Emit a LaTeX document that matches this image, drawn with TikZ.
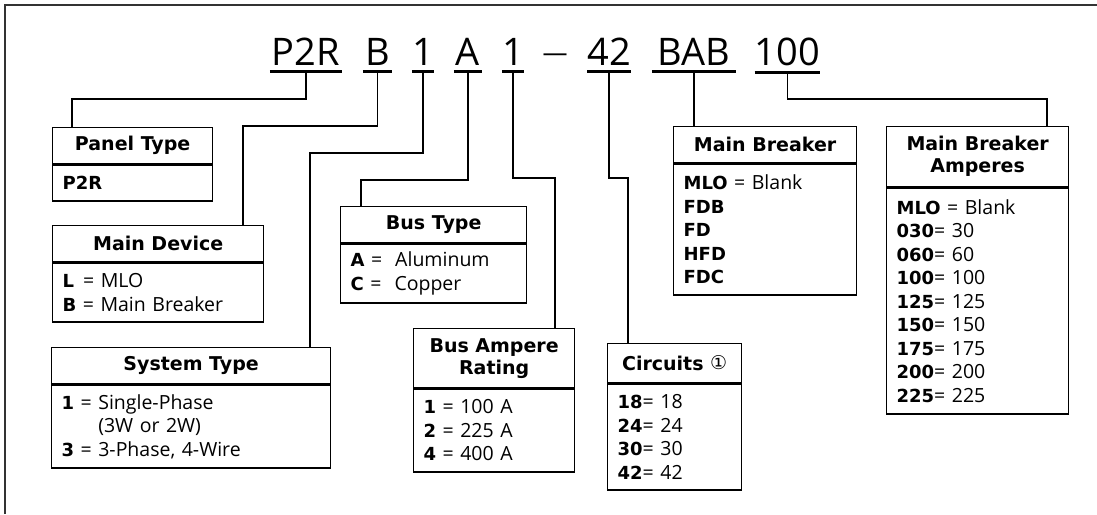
\documentclass[tikz,border=0pt]{standalone}
\usepackage{fontspec}
\setmainfont{Open Sans}
\newfontfamily\hdfont{DejaVu Sans}
\newfontfamily\symfont{DejaVu Sans}
\newcommand\kw[1]{{\hdfont\bfseries\fontsize{18}{23.5}\selectfont #1}}
\tikzset{
  hd/.style={draw, line width=1.3pt, anchor=north west, inner sep=0pt, align=center,
    font=\hdfont\bfseries\fontsize{19}{22}\selectfont},
  bd/.style={draw, line width=1.3pt, anchor=north west, inner xsep=10pt, inner ysep=0pt,
    align=left, font=\fontsize{19.5}{23.5}\selectfont},
  code/.style={anchor=base, inner xsep=0pt, inner ysep=6.5pt, font=\fontsize{38}{38}\selectfont},
  wire/.style={line width=1.3pt},
  bar/.style={line width=3pt},
  frame/.style={line width=2pt, black!80}
}
\begin{document}
\begin{tikzpicture}[x=1pt,y=-1pt]
\useasboundingbox (0,0) rectangle (1097,514);
\draw[frame] (5,514) -- (5,5) -- (1097,5);
% catalog number
\node[code, minimum width=72pt] (cP) at (306,65) {P2R};
\node[code, minimum width=29pt] (cB) at (377.5,65) {B};
\node[code, minimum width=20pt] (cS) at (423,65) {1};
\node[code, minimum width=28pt] (cA) at (468,65) {A};
\node[code, minimum width=20pt] (cR) at (513,65) {1};
\node[code, font=\fontsize{25}{25}\selectfont] (cD) at (555,61) {—};
\node[code, minimum width=42pt] (cC) at (609,65) {42};
\node[code, minimum width=84pt] (cM) at (694,65) {BAB};
\node[code, minimum width=61pt] (cX) at (787.5,65) {100};
\foreach \n in {cP,cB,cS,cA,cR,cC,cM,cX}
  \draw[bar] (\n.south west) -- (\n.south east);
% boxes
\node[hd, minimum width=160pt, minimum height=36pt] (panel) at (52,127) {Panel Type};
\node[bd, text width=140pt, minimum height=36pt] (panelB) at (panel.south west) {\kw{P2R}};
\node[hd, minimum width=211pt, minimum height=36pt] (device) at (52,225) {Main Device};
\node[bd, text width=191pt, minimum height=59pt] (deviceB) at (device.south west)
  {\kw{L}\kern2.5pt{} = MLO\\\kw{B} = Main Breaker};
\node[hd, minimum width=279pt, minimum height=36pt] (system) at (51,347) {System Type};
\node[bd, text width=259pt, minimum height=83pt] (systemB) at (system.south west)
  {\kw{1} = Single-Phase\\\phantom{\kw{1} = }(3W or 2W)\\\kw{3} = 3-Phase, 4-Wire};
\node[hd, minimum width=186pt, minimum height=36pt] (bustype) at (340,206) {Bus Type};
\node[bd, text width=166pt, minimum height=59pt] (bustypeB) at (bustype.south west)
  {\kw{A} = ~Aluminum\\\kw{C} = ~Copper};
\node[hd, minimum width=161pt, minimum height=59pt] (busamp) at (413,328) {Bus Ampere\\Rating};
\node[bd, text width=141pt, minimum height=83pt] (busampB) at (busamp.south west)
  {\kw{1} = 100 A\\\kw{2} = 225 A\\\kw{4} = 400 A};
\node[hd, minimum width=134pt, minimum height=39pt] (circuits) at (607,343)
  {Circuits {\symfont\mdseries\fontsize{19}{19}\selectfont\raisebox{1pt}{①}}};
\node[bd, text width=114pt, minimum height=106pt] (circuitsB) at (circuits.south west)
  {\kw{18}= 18\\\kw{24}= 24\\\kw{30}= 30\\\kw{42}= 42};
\node[hd, minimum width=183pt, minimum height=36pt] (breaker) at (673,126) {Main Breaker};
\node[bd, text width=163pt, minimum height=131pt] (breakerB) at (breaker.south west)
  {\kw{MLO} = Blank\\\kw{FDB}\\\kw{FD}\\\kw{HFD}\\\kw{FDC}};
\node[hd, minimum width=182pt, minimum height=60pt] (amperes) at (886,126) {Main Breaker\\Amperes};
\node[bd, text width=162pt, minimum height=226pt] (amperesB) at (amperes.south west)
  {\kw{MLO} = Blank\\\kw{030}= 30\\\kw{060}= 60\\\kw{100}= 100\\\kw{125}= 125\\
   \kw{150}= 150\\\kw{175}= 175\\\kw{200}= 200\\\kw{225}= 225};
% connectors
\coordinate (kP) at (72,99);
\coordinate (kB) at (243,126);
\coordinate (kS) at (310,153);
\coordinate (kA) at (361,180);
\coordinate (kR) at (555,178);
\coordinate (kC) at (628,178);
\coordinate (kX) at (1047,99);
\draw[wire] (cP.south) |- (kP) -- (kP |- panel.north);
\draw[wire] (cB.south) |- (kB) -- (kB |- device.north);
\draw[wire] (cS.south) |- (kS) -- (kS |- system.north);
\draw[wire] (cA.south) |- (kA) -- (kA |- bustype.north);
\draw[wire] (cR.south) |- (kR) -- (kR |- busamp.north);
\draw[wire] (cC.south) |- (kC) -- (kC |- circuits.north);
\draw[wire] (cM.south) -- (cM.south |- breaker.north);
\draw[wire] (cX.south) |- (kX) -- (kX |- amperes.north);
\end{tikzpicture}
\end{document}
